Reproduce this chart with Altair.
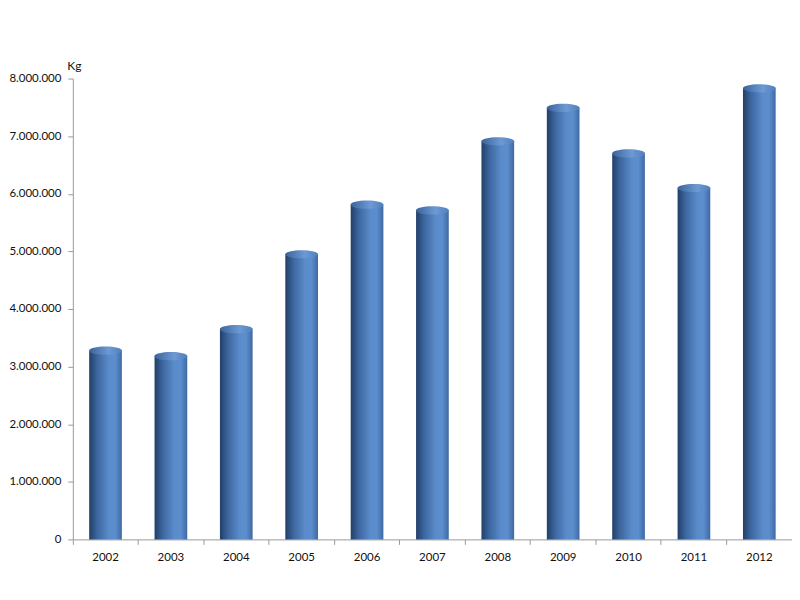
import altair as alt
import pandas as pd

years = ["2002", "2003", "2004", "2005", "2006", "2007", "2008", "2009", "2010", "2011", "2012"]
kg = [3275000, 3180000, 3650000, 4950000, 5810000, 5710000, 6910000, 7490000, 6700000, 6100000, 7830000]

df = pd.DataFrame({"year": years, "kg": kg})

body_grad = {
    "gradient": "linear", "x1": 0, "x2": 1, "y1": 0, "y2": 0,
    "stops": [
        {"offset": 0, "color": "#223f68"},
        {"offset": 0.25, "color": "#3d679f"},
        {"offset": 0.6, "color": "#5a8bcb"},
        {"offset": 0.8, "color": "#5c8dcd"},
        {"offset": 1, "color": "#3e6aa3"},
    ],
}
cap_grad = {
    "gradient": "linear", "x1": 0, "x2": 1, "y1": 0, "y2": 0,
    "stops": [
        {"offset": 0, "color": "#3a639b"},
        {"offset": 0.6, "color": "#6e9ad4"},
        {"offset": 1, "color": "#4f7fbd"},
    ],
}

x = alt.X("year:N", sort=years, title=None,
          scale=alt.Scale(paddingInner=0, paddingOuter=0),
          axis=alt.Axis(labelAngle=0, bandPosition=0, tickSize=5, labelPadding=7,
                        labelFont="Lato", labelFontSize=11.5, labelColor="#111111",
                        domainColor="#9a9a9a", tickColor="#9a9a9a"))
y = alt.Y("kg:Q", title="Kg",
          scale=alt.Scale(domain=[0, 8000000], nice=False),
          axis=alt.Axis(values=[0, 1000000, 2000000, 3000000, 4000000, 5000000, 6000000, 7000000, 8000000],
                        labelExpr="replace(format(datum.value, ','), regexp(',', 'g'), '.')",
                        grid=False, tickSize=5, labelPadding=7,
                        labelFont="Lato", labelFontSize=11.5, labelColor="#111111",
                        domainColor="#9a9a9a", tickColor="#9a9a9a",
                        titleAngle=0, titleX=-6, titleY=-6, titleAlign="left",
                        titleBaseline="bottom", titleFont="Lato", titleFontSize=12,
                        titleFontWeight="normal", titleColor="#111111"))

bars = alt.Chart(df).mark_bar(width=alt.RelativeBandSize(0.5), fill=body_grad).encode(x=x, y=y)

caps = alt.Chart(df).mark_point(
    shape="M-1,0A1,0.25,0,1,0,1,0A1,0.25,0,1,0,-1,0Z",
    filled=True, size=1089, fill=cap_grad, opacity=1, strokeWidth=0,
).encode(x=x, y=y)

chart = alt.layer(bars, caps).properties(
    width=721, height=462,
    autosize=alt.AutoSizeParams(type="none"),
    padding={"left": 65, "top": 70, "right": 0, "bottom": 50},
).configure_view(stroke=None)

chart.save("out.html", embed_options={"renderer": "svg", "actions": False})
